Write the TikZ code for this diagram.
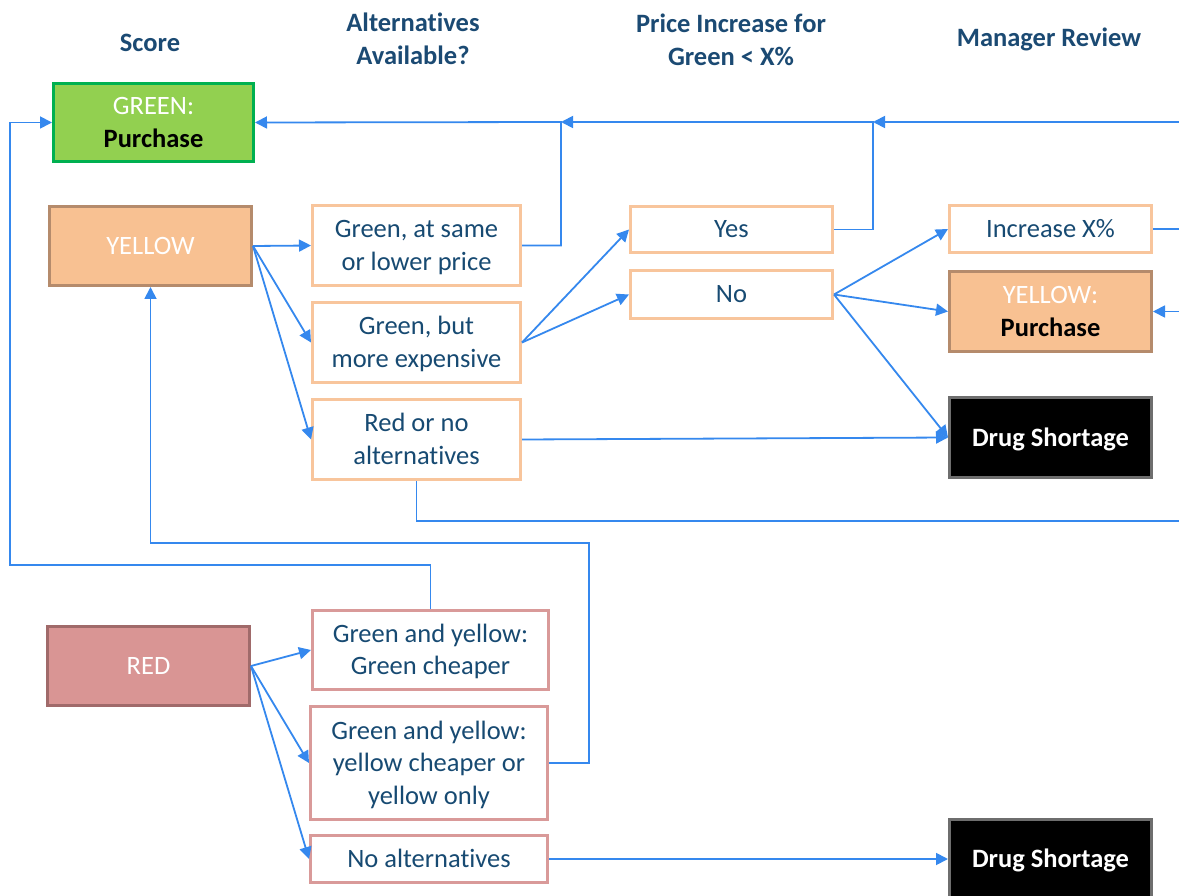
\documentclass[tikz,border=0pt]{standalone}
\usepackage{fontspec}
\setmainfont{Carlito}[Ligatures=NoCommon]
\usetikzlibrary{arrows.meta}
\definecolor{txt}{HTML}{174A72}
\definecolor{hdr}{HTML}{1B4A73}
\definecolor{conn}{HTML}{3588EE}
\definecolor{gfill}{HTML}{92D050}
\definecolor{gline}{HTML}{00B050}
\definecolor{yfill}{HTML}{F8C192}
\definecolor{yline}{HTML}{B58B6C}
\definecolor{oline}{HTML}{F8C59C}
\definecolor{rfill}{HTML}{D99594}
\definecolor{rline}{HTML}{A06A6A}
\definecolor{pline}{HTML}{D99A99}
\definecolor{dline}{HTML}{6E6E6E}
\newcommand\sx{\rule[-7.75pt]{0pt}{32.5pt}}
\begin{document}
\begin{tikzpicture}[x=1pt,y=-1pt,
  box/.style={draw, line width=3pt, inner sep=0pt, align=center,
    font=\fontsize{26.5}{32.5}\selectfont, text=txt},
  obox/.style={box, draw=oline, fill=white},
  pbox/.style={box, draw=pline, fill=white},
  ybox/.style={box, draw=yline, fill=yfill, text=white},
  rbox/.style={box, draw=rline, fill=rfill, text=white},
  dbox/.style={box, draw=dline, fill=black, text=white, font=\fontsize{26.5}{32.5}\selectfont\bfseries},
  hdrtext/.style={align=center, inner sep=0pt, text=hdr,
    font=\fontsize{26.5}{33}\selectfont\bfseries},
  link/.style={draw=conn, line width=1.8pt, -{Triangle[length=12pt,width=12pt]}},
  plain/.style={draw=conn, line width=1.8pt}]
\useasboundingbox (0,0) rectangle (1179,896);
\clip (0,0) rectangle (1179,896);
\fill[white] (0,0) rectangle (1179,896);

% headers
\node[hdrtext] (h1) at (150,43) {Score};
\node[hdrtext] (h2) at (413,39) {Alternatives\\Available?};
\node[hdrtext] (h3) at (731,40) {Price Increase for\\Green < X\%};
\node[hdrtext] (h4) at (1049,39) {Manager Review};

% nodes
\node[box, draw=gline, fill=gfill, minimum width=200pt, minimum height=78pt] (green) at (153.5,122.5)
  {\sx\textcolor{white}{GREEN:}\\\sx\textcolor{black}{\bfseries Purchase}};
\node[ybox, minimum width=202pt, minimum height=79pt] (yellow) at (150.5,246) {\sx YELLOW};
\node[obox, minimum width=208pt, minimum height=80pt] (a1) at (416.5,245.5) {\sx Green, at same\\\sx or lower price};
\node[obox, minimum width=208pt, minimum height=80pt] (a2) at (416.5,342.5) {\sx Green, but\\\sx more expensive};
\node[obox, minimum width=208pt, minimum height=80pt] (a3) at (416.5,439.5) {\sx Red or no\\\sx alternatives};
\node[obox, minimum width=202pt, minimum height=46pt] (yes) at (731.5,229.5) {\sx Yes};
\node[obox, minimum width=202pt, minimum height=48pt] (no) at (731.5,294.5) {\sx No};
\node[obox, minimum width=202pt, minimum height=47pt] (inc) at (1050.5,229) {\sx Increase X\%};
\node[ybox, minimum width=202pt, minimum height=80pt] (ypur) at (1050.5,311.5)
  {\sx YELLOW:\\\sx\textcolor{black}{\bfseries Purchase}};
\node[dbox, minimum width=202pt, minimum height=80pt] (ds1) at (1050.5,437.5) {\sx Drug Shortage};
\node[rbox, minimum width=202pt, minimum height=79pt] (red) at (148.5,666) {\sx RED};
\node[pbox, minimum width=236pt, minimum height=79pt] (r1) at (430.5,650) {\sx Green and yellow:\\\sx Green cheaper};
\node[pbox, minimum width=237pt, minimum height=113pt] (r2) at (429,763) {\sx Green and yellow:\\\sx yellow cheaper or\\\sx yellow only};
\node[pbox, minimum width=237pt, minimum height=47pt] (r3) at (429,859) {\sx No alternatives};
\node[dbox, minimum width=202pt, minimum height=80pt] (ds2) at (1050.5,859) {\sx Drug Shortage};

% junction coordinates
\coordinate (j1) at (561,122);
\coordinate (j2) at (873,122);
\coordinate (offA) at (1200,229);
\coordinate (offB) at (1210,521);

% connectors
\draw[link] (yellow.east) -- (a1.west);
\draw[link] (yellow.east) -- (a2.west);
\draw[link] (yellow.east) -- (a3.west);
\draw[link] (a1.east) -| (j1) -- (green.east);
\draw[link] (yes.east) -- ++(39,0) |- (j1);
\draw[link] (inc.east) -- (offA) |- (j2);
\draw[link] (a2.east) -- (yes.west);
\draw[link] (a2.east) -- (no.west);
\draw[link] (no.east) -- (inc.west);
\draw[link] (no.east) -- (ypur.west);
\draw[link] (no.east) -- (ds1.west);
\draw[link] (a3.east) -- (ds1.west);
\draw[link] (a3.south) |- (offB) |- (ypur.east);
\draw[link] (red.east) -- (r1.west);
\draw[link] (red.east) -- (r2.west);
\draw[link] (red.east) -- (r3.west);
\draw[link] (r1.north) |- (10,565) |- (green.west);
\draw[link] (r2.east) -| (589,543) -| (yellow.south);
\draw[link] (r3.east) -- (ds2.west);
\end{tikzpicture}
\end{document}
